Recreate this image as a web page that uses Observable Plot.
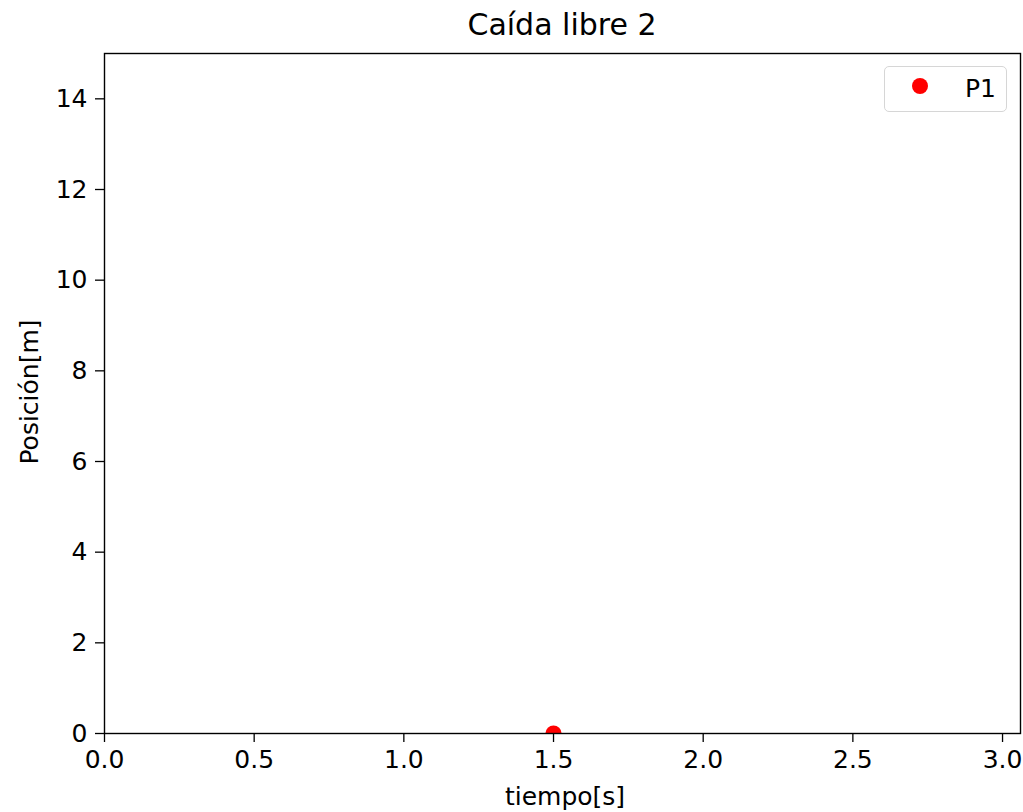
<!DOCTYPE html>
<html>
<head>
<meta charset="utf-8">
<script src="https://cdn.jsdelivr.net/npm/d3@7"></script>
<script src="https://cdn.jsdelivr.net/npm/@observablehq/plot@0.6"></script>
<style>
  body { margin: 0; background: #fff; font-family: "DejaVu Sans", sans-serif; }
  #wrap { position: relative; width: 1023px; height: 812px; overflow: hidden; }
  #chart { position: absolute; left: 0; top: 40px; }
  .lbl { position: absolute; color: #000; white-space: nowrap; line-height: 1; }
  #title { left: 0; width: 1124px; top: 10px; text-align: center; font-size: 30px; }
  #xlabel { left: 0; width: 1130px; top: 784px; text-align: center; font-size: 25px; }
  #ylabel { left: 29px; top: 392px; font-size: 25px; transform: translate(-50%, -50%) rotate(-90deg); }
  #legend { position: absolute; left: 884px; top: 66px; width: 123px; height: 46px; border: 1px solid #d6d6d6; border-radius: 5px; background: rgba(255,255,255,0.8); box-sizing: border-box; }
  #legend .mk { position: absolute; left: 27px; top: 11px; width: 16px; height: 16px; border-radius: 50%; background: #ff0000; }
  #legend .tx { position: absolute; left: 80px; top: 9px; font-size: 25px; line-height: 1; }
</style>
</head>
<body>
<div id="wrap">
  <div id="title" class="lbl">Caída libre 2</div>
  <div id="chart"></div>
  <div id="xlabel" class="lbl">tiempo[s]</div>
  <div id="ylabel" class="lbl">Posición[m]</div>
  <div id="legend"><div class="mk"></div><div class="tx">P1</div></div>
</div>
<script>
const seriesName = ["P1"];
const tiempo = [1.5];
const posicion = [0];
const xTicks = [0, 0.5, 1.0, 1.5, 2.0, 2.5, 3.0];
const yTicks = [0, 2, 4, 6, 8, 10, 12, 14];

const data = tiempo.map((t, i) => ({t, y: posicion[i], s: seriesName[0]}));

const plot = Plot.plot({
  width: 1023,
  height: 772,
  marginLeft: 104,
  marginRight: 3,
  marginTop: 13,
  marginBottom: 79,
  style: { fontSize: "25px", fontFamily: "DejaVu Sans, sans-serif", color: "#000", background: "#fff" },
  x: { domain: [0, 3.06], label: null },
  y: { domain: [0, 15], label: null },
  marks: [
    Plot.axisX({ ticks: xTicks, tickFormat: d3.format(".1f"), tickSize: 9, tickPadding: 8, stroke: "#000", strokeWidth: 1.3, label: null }),
    Plot.axisY({ ticks: yTicks, tickFormat: d3.format("d"), tickSize: 9, tickPadding: 8, stroke: "#000", strokeWidth: 1.3, label: null }),
    Plot.dot(data, { x: "t", y: "y", r: 8, fill: "#ff0000", stroke: "none", clip: true }),
    Plot.frame({ stroke: "#000", strokeWidth: 1.4 })
  ]
});

document.getElementById("chart").appendChild(plot);
</script>
</body>
</html>
